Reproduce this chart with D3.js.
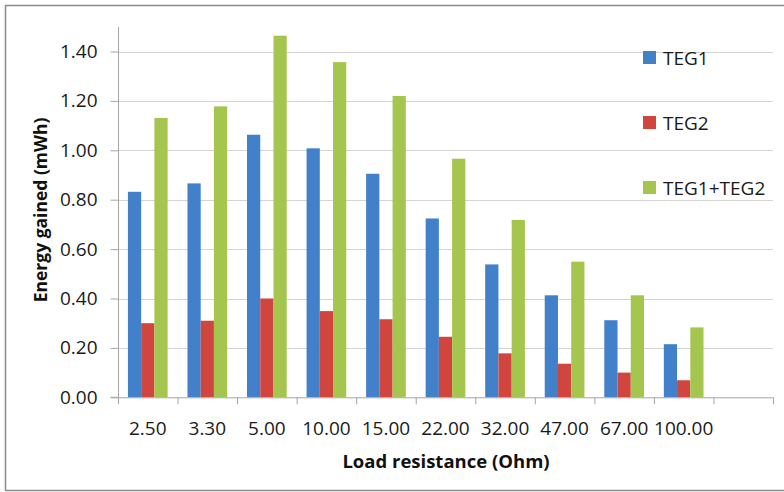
<!DOCTYPE html>
<html>
<head>
<meta charset="utf-8">
<script src="https://cdn.jsdelivr.net/npm/d3@7"></script>
<style>
  html, body { margin: 0; padding: 0; background: #fff; }
  svg { display: block; font-family: "Open Sans", "Liberation Sans", sans-serif; }
</style>
</head>
<body>
<svg id="chart" width="784" height="492"></svg>
<script>
const categories = ["2.50", "3.30", "5.00", "10.00", "15.00", "22.00", "32.00", "47.00", "67.00", "100.00"];
const seriesNames = ["TEG1", "TEG2", "TEG1+TEG2"];
const teg1 = [0.832, 0.866, 1.063, 1.008, 0.905, 0.724, 0.538, 0.413, 0.312, 0.215];
const teg2 = [0.300, 0.310, 0.400, 0.349, 0.316, 0.245, 0.178, 0.136, 0.100, 0.069];
const tegSum = [1.131, 1.178, 1.464, 1.357, 1.220, 0.966, 0.718, 0.549, 0.413, 0.283];
const yTicks = [0, 0.2, 0.4, 0.6, 0.8, 1.0, 1.2, 1.4];
const colors = ["#4280CA", "#D0463F", "#A5C64E"];
const seriesValues = [teg1, teg2, tegSum];

const svg = d3.select("#chart");
const pLeft = 118, pRight = 773, pTop = 26.8, pBottom = 397.3;

// outer frame
svg.append("path")
  .attr("d", "M5.5,491 L5.5,5.5 L784,5.5 M5.5,490.5 L784,490.5")
  .attr("fill", "none").attr("stroke", "#8c8c8c").attr("stroke-width", 1.5);

const slots = categories.concat([""]);
const x = d3.scaleBand().domain(d3.range(slots.length)).range([pLeft, pRight]).padding(0);
const bw = x.bandwidth();
const inner = d3.scaleBand().domain(seriesNames).range([bw / 6, bw * 5 / 6]).padding(0);
const y = d3.scaleLinear().domain([0, 1.5]).range([pBottom, pTop]);

// gridlines
svg.append("g").selectAll("line").data(yTicks.filter(d => d > 0)).join("line")
  .attr("x1", pLeft).attr("x2", pRight)
  .attr("y1", d => Math.round(y(d)) + 0.5).attr("y2", d => Math.round(y(d)) + 0.5)
  .attr("stroke", "#d4d4d4").attr("stroke-width", 1.2);

// bars
seriesNames.forEach((s, si) => {
  svg.append("g").selectAll("rect").data(seriesValues[si]).join("rect")
    .attr("x", (d, i) => x(i) + inner(s))
    .attr("width", inner.bandwidth())
    .attr("y", d => y(d))
    .attr("height", d => pBottom - y(d))
    .attr("fill", colors[si]);
});

// y axis
const yAxis = d3.axisLeft(y).tickValues(yTicks).tickFormat(d3.format(".2f")).tickSize(8).tickPadding(13);
const gy = svg.append("g").attr("transform", `translate(${pLeft + 0.5},0)`).call(yAxis);
gy.select(".domain").attr("stroke", "#a6a6a6").attr("d", `M-8,${pBottom}H0V${pTop}`);
gy.selectAll(".tick line").attr("stroke", "#a6a6a6");
gy.selectAll(".tick text").attr("font-size", 19).attr("fill", "#1a1a1a")
  .attr("font-family", "'Open Sans', sans-serif");

// x axis baseline and ticks
const gx = svg.append("g");
gx.append("line").attr("x1", pLeft).attr("x2", pRight)
  .attr("y1", pBottom + 0.5).attr("y2", pBottom + 0.5).attr("stroke", "#a6a6a6");
gx.selectAll("line.tk").data(d3.range(slots.length + 1)).join("line").attr("class", "tk")
  .attr("x1", i => (i < slots.length ? x(i) : pRight) + 0.5)
  .attr("x2", i => (i < slots.length ? x(i) : pRight) + 0.5)
  .attr("y1", pBottom).attr("y2", pBottom + 7).attr("stroke", "#a6a6a6");
gx.selectAll("text").data(categories).join("text")
  .attr("x", (d, i) => x(i) + bw / 2).attr("y", 435)
  .attr("text-anchor", "middle").attr("font-size", 19).attr("fill", "#1a1a1a")
  .text(d => d);

// axis titles
svg.append("text").attr("x", 446).attr("y", 468).attr("text-anchor", "middle")
  .attr("font-size", 18.5).attr("font-weight", "bold").attr("fill", "#111")
  .text("Load resistance (Ohm)");
svg.append("text").attr("transform", "translate(47,210) rotate(-90)").attr("text-anchor", "middle")
  .attr("font-size", 17.5).attr("font-weight", "bold").attr("fill", "#111")
  .text("Energy gained (mWh)");

// legend
const lg = svg.append("g");
seriesNames.forEach((s, i) => {
  const ly = 51 + i * 65;
  lg.append("rect").attr("x", 643).attr("y", ly).attr("width", 13).attr("height", 13).attr("fill", colors[i]);
  lg.append("text").attr("x", 663).attr("y", ly + 14).attr("font-size", 19).attr("fill", "#1a1a1a").text(s);
});
</script>
</body>
</html>
